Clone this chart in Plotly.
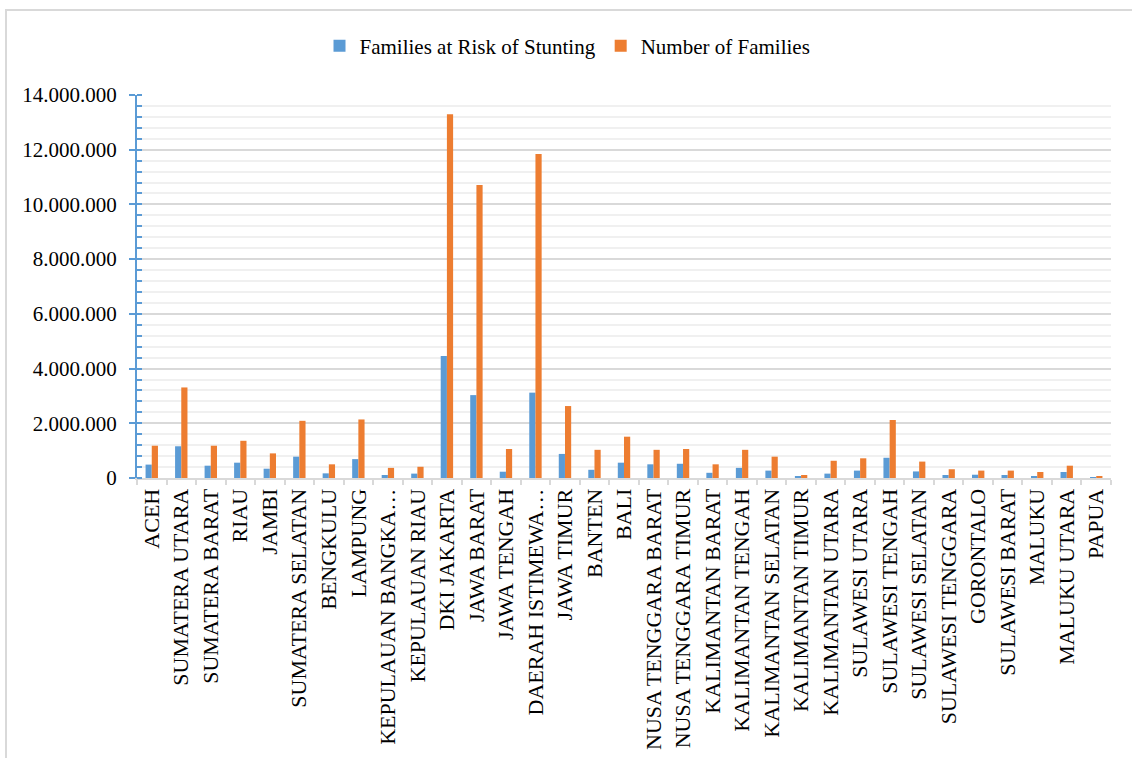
import plotly.graph_objects as go

provinces = [
    "ACEH", "SUMATERA UTARA", "SUMATERA BARAT", "RIAU", "JAMBI",
    "SUMATERA SELATAN", "BENGKULU", "LAMPUNG", "KEPULAUAN BANGKA…",
    "KEPULAUAN RIAU", "DKI JAKARTA", "JAWA BARAT", "JAWA TENGAH",
    "DAERAH ISTIMEWA…", "JAWA TIMUR", "BANTEN", "BALI",
    "NUSA TENGGARA BARAT", "NUSA TENGGARA TIMUR", "KALIMANTAN BARAT",
    "KALIMANTAN TENGAH", "KALIMANTAN SELATAN", "KALIMANTAN TIMUR",
    "KALIMANTAN UTARA", "SULAWESI UTARA", "SULAWESI TENGAH",
    "SULAWESI SELATAN", "SULAWESI TENGGARA", "GORONTALO",
    "SULAWESI BARAT", "MALUKU", "MALUKU UTARA", "PAPUA",
]

families_at_risk = [
    490000, 1160000, 450000, 560000, 340000,
    780000, 170000, 690000, 110000,
    160000, 4460000, 3030000, 230000,
    3120000, 880000, 300000, 560000,
    500000, 520000, 190000,
    370000, 270000, 50000,
    160000, 270000, 740000,
    240000, 110000, 120000,
    110000, 70000, 220000, 10000,
]

number_of_families = [
    1180000, 3310000, 1180000, 1360000, 900000,
    2090000, 500000, 2140000, 370000,
    410000, 13300000, 10710000, 1060000,
    11840000, 2630000, 1030000, 1510000,
    1030000, 1060000, 500000,
    1030000, 780000, 110000,
    630000, 720000, 2120000,
    600000, 320000, 270000,
    270000, 220000, 450000, 60000,
]

y_ticks = list(range(0, 14000001, 2000000))
y_tick_text = [f"{v:,}".replace(",", ".") for v in y_ticks]

BLUE = "#5B9BD5"
ORANGE = "#ED7D31"
FONT = "Liberation Serif"

W, H = 1132, 758
M_L, M_R, M_T, M_B = 137, 21, 95, 280

fig = go.Figure()
fig.add_trace(go.Bar(
    x=provinces, y=families_at_risk, name="Families at Risk of Stunting",
    marker=dict(color=BLUE, line=dict(width=0)),
))
fig.add_trace(go.Bar(
    x=provinces, y=number_of_families, name="Number of Families",
    marker=dict(color=ORANGE, line=dict(width=0)),
))

plot_w = W - M_L - M_R
plot_h = H - M_T - M_B

# outer chart frame (left and top edges visible inside the page)
fig.add_shape(
    type="rect", xref="paper", yref="paper",
    x0=(6 - M_L) / plot_w, x1=(W + 10 - M_L) / plot_w,
    y0=-(H + 10 - M_T - plot_h) / plot_h, y1=(H - 10 - M_B) / plot_h,
    line=dict(color="#d9d9d9", width=2), layer="below",
)

fig.update_layout(
    width=W, height=H,
    margin=dict(l=M_L, r=M_R, t=M_T, b=M_B, pad=0, autoexpand=False),
    paper_bgcolor="white", plot_bgcolor="white",
    font=dict(family=FONT, size=21, color="#000000"),
    barmode="group", bargap=0.58, bargroupgap=0.0,
    showlegend=True,
    legend=dict(
        orientation="h", x=0.442, xanchor="center",
        y=(H - M_B - 46) / plot_h, yanchor="middle",
        font=dict(family=FONT, size=21, color="#000000"),
        itemwidth=30, tracegroupgap=0,
    ),
    xaxis=dict(
        type="category", tickangle=-90, automargin=False,
        showline=True, linecolor="#d9d9d9", linewidth=2,
        ticks="outside", tickson="boundaries", ticklen=5,
        tickcolor="#d9d9d9", tickwidth=2,
        showgrid=False,
        tickfont=dict(family=FONT, size=22, color="#000000"),
    ),
    yaxis=dict(
        range=[0, 14000000], tickvals=y_ticks, ticktext=y_tick_text,
        automargin=False,
        showline=True, linecolor=BLUE, linewidth=2,
        ticks="outside", ticklen=6, tickcolor=BLUE, tickwidth=2,
        showgrid=True, gridcolor="#d9d9d9", gridwidth=2,
        zeroline=False,
        minor=dict(
            dtick=400000, tick0=0, showgrid=True, gridcolor="#f0f0f0",
            gridwidth=2, ticks="inside", ticklen=5, tickcolor=BLUE,
            tickwidth=2,
        ),
        tickfont=dict(family=FONT, size=21, color="#000000"),
        ticklabelstandoff=8,
    ),
)

fig.write_html("out.html")
